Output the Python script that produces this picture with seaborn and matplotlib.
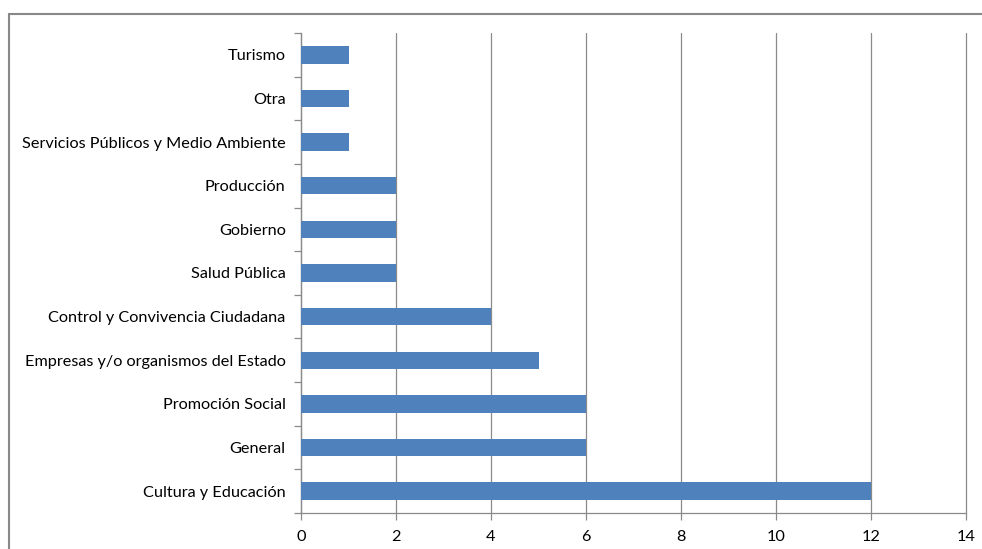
import matplotlib
matplotlib.use("Agg")
import matplotlib.pyplot as plt
from matplotlib.patches import Rectangle
from matplotlib.ticker import FixedLocator
import seaborn as sns
import pandas as pd

categories = [
    "Turismo",
    "Otra",
    "Servicios Públicos y Medio Ambiente",
    "Producción",
    "Gobierno",
    "Salud Pública",
    "Control y Convivencia Ciudadana",
    "Empresas y/o organismos del Estado",
    "Promoción Social",
    "General",
    "Cultura y Educación",
]
values = [1, 1, 1, 2, 2, 2, 4, 5, 6, 6, 12]
x_ticks = [0, 2, 4, 6, 8, 10, 12, 14]

sns.set_theme(style="white")
plt.rcParams["font.family"] = ["Lato", "DejaVu Sans"]

df = pd.DataFrame({"area": categories, "count": values})

W, H = 982, 549
fig = plt.figure(figsize=(W / 100, H / 100), dpi=100)
ax = fig.add_axes([301 / W, 1 - 513 / H, (966 - 301) / W, (513 - 33) / H])

sns.barplot(data=df, y="area", x="count", orient="h", color="#4F81BD",
            width=0.4, saturation=1, linewidth=0, ax=ax, zorder=3)

grid_c = "#8A8A8A"
ax.set_xlim(0, 14)
ax.set_ylim(len(categories) - 0.5, -0.5)
ax.xaxis.set_major_locator(FixedLocator(x_ticks))
ax.set_xticklabels([str(t) for t in x_ticks])
ax.grid(axis="x", color=grid_c, linewidth=0.9, zorder=0, clip_on=False)
ax.grid(axis="y", visible=False)
ax.set_axisbelow(True)

for side in ["top", "right"]:
    ax.spines[side].set_visible(False)
for side in ["left", "bottom"]:
    ax.spines[side].set_color(grid_c)
    ax.spines[side].set_linewidth(0.9)

ax.set_xlabel("")
ax.set_ylabel("")
ax.set_yticks([i - 0.5 for i in range(len(categories) + 1)], minor=True)
ax.tick_params(axis="y", which="major", left=True, length=0, pad=11,
               labelsize=11.7, labelcolor="#000000")
ax.tick_params(axis="y", which="minor", left=True, length=5, color=grid_c,
               width=0.9, direction="out")
ax.tick_params(axis="x", which="major", bottom=True, length=5, color=grid_c,
               width=0.9, direction="out", pad=7, labelsize=11.7,
               labelcolor="#000000")

# chart frame
fig.patches.append(Rectangle((8.5 / W, -0.1), 1.2, (1 - 13.5 / H) + 0.1,
                             transform=fig.transFigure, fill=False,
                             edgecolor="#888888", linewidth=1.5))

fig.savefig("out.png", dpi=100)
